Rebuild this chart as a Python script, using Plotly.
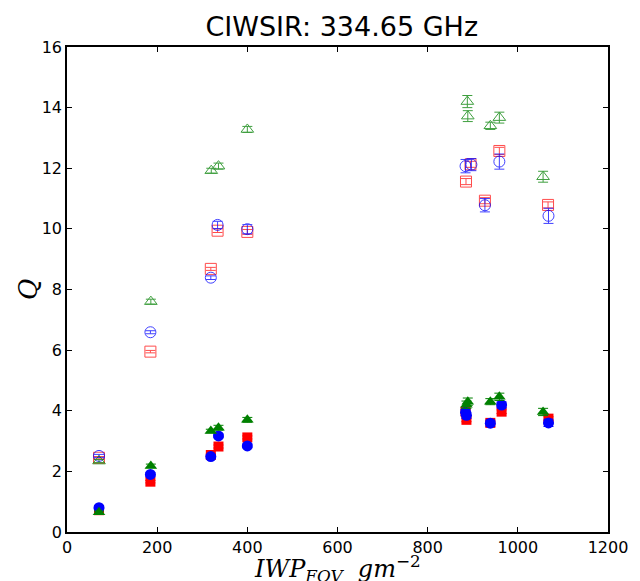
import plotly.graph_objects as go

# Open markers (upper group)
tri_open_x = [71, 186, 320, 336, 400, 888, 889, 939, 959, 1056]
tri_open_y = [2.34, 7.6, 11.92, 12.07, 13.28, 14.2, 13.72, 13.4, 13.67, 11.72]
tri_open_e = [0.05, 0.08, 0.08, 0.1, 0.1, 0.2, 0.18, 0.12, 0.18, 0.18]

cir_open_x = [71, 185, 319, 334, 400, 884, 897, 927, 959, 1068]
cir_open_y = [2.51, 6.59, 8.39, 10.13, 9.99, 12.07, 12.12, 10.78, 12.22, 10.43]
cir_open_e = [0.05, 0.05, 0.06, 0.12, 0.15, 0.22, 0.2, 0.22, 0.25, 0.25]

sq_open_x = [71, 185, 319, 334, 400, 885, 895, 927, 959, 1067]
sq_open_y = [2.45, 5.95, 8.68, 9.94, 9.9, 11.56, 12.13, 10.93, 12.57, 10.79]
sq_open_e = [0.04, 0.04, 0.05, 0.06, 0.08, 0.1, 0.1, 0.1, 0.12, 0.1]

# Filled markers (lower group)
tri_fill_x = [71, 186, 319, 336, 400, 886, 889, 939, 959, 1056]
tri_fill_y = [0.65, 2.18, 3.33, 3.44, 3.7, 4.2, 4.3, 4.3, 4.46, 3.96]
tri_fill_e = [0.04, 0.06, 0.06, 0.08, 0.08, 0.12, 0.12, 0.1, 0.12, 0.12]

cir_fill_x = [71, 185, 319, 336, 400, 884, 886, 939, 964, 1068]
cir_fill_y = [0.8, 1.9, 2.49, 3.17, 2.84, 3.95, 3.85, 3.59, 4.19, 3.6]
cir_fill_e = [0.03, 0.05, 0.05, 0.06, 0.06, 0.1, 0.1, 0.1, 0.1, 0.12]

sq_fill_x = [71, 185, 319, 336, 400, 884, 886, 939, 964, 1068]
sq_fill_y = [0.72, 1.66, 2.54, 2.82, 3.12, 3.97, 3.7, 3.6, 3.97, 3.74]
sq_fill_e = [0.03, 0.04, 0.04, 0.05, 0.05, 0.06, 0.06, 0.06, 0.06, 0.06]

x_ticks = [0, 200, 400, 600, 800, 1000, 1200]
y_ticks = [0, 2, 4, 6, 8, 10, 12, 14, 16]

GREEN = "#008000"
BLUE = "#0000ff"
RED = "#ff0000"

fig = go.Figure()


def add(x, y, e, symbol, color, opacity=1.0, size=10, lw=1):
    fig.add_trace(go.Scatter(
        x=x, y=y, mode="markers",
        error_y=dict(type="data", array=e, visible=True, color=color,
                     thickness=1, width=5),
        marker=dict(symbol=symbol, size=size, color=color,
                    line=dict(color=color, width=lw)),
        opacity=opacity, showlegend=False,
    ))


add(sq_open_x, sq_open_y, sq_open_e, "square-open", RED, 0.7, 11)
add(cir_open_x, cir_open_y, cir_open_e, "circle-open", BLUE, 0.75, 11)
add(tri_open_x, tri_open_y, tri_open_e, "triangle-up-open", GREEN, 0.75, 11)
add(sq_fill_x, sq_fill_y, sq_fill_e, "square", RED, 1.0, 10, 0)
add(cir_fill_x, cir_fill_y, cir_fill_e, "circle", BLUE, 1.0, 11, 0)
add(tri_fill_x, tri_fill_y, tri_fill_e, "triangle-up", GREEN, 1.0, 11, 0)

axis_common = dict(
    showgrid=False, zeroline=False, showline=True, linecolor="black",
    linewidth=1.5, mirror="allticks", ticks="inside", ticklen=5,
    tickcolor="black", tickwidth=1,
    tickfont=dict(family="DejaVu Sans", size=16, color="black"),
)

fig.update_layout(
    width=640, height=581,
    margin=dict(l=67, r=26, t=47, b=49),
    plot_bgcolor="white", paper_bgcolor="white",
    title=dict(text="CIWSIR: 334.65 GHz", x=0.534, xanchor="center",
               y=1 - 27 / 581, yanchor="middle", yref="container",
               font=dict(family="DejaVu Sans", size=27, color="black")),
    xaxis=dict(range=[0, 1200], tickvals=x_ticks,
               ticktext=[str(v) for v in x_ticks], **axis_common),
    yaxis=dict(range=[0, 16], tickvals=y_ticks,
               ticktext=[str(v) for v in y_ticks], **axis_common),
    annotations=[
        dict(text="<i>IWP</i><sub><i>FOV</i></sub>  <i>gm</i><sup>−2</sup>",
             xref="paper", yref="paper", x=0.5, y=-0.036, xanchor="center",
             yanchor="top", showarrow=False,
             font=dict(family="DejaVu Serif", size=24, color="black")),
        dict(text="<i>Q</i>", xref="paper", yref="paper", x=-0.073, y=0.5,
             xanchor="center", yanchor="middle", textangle=-90,
             showarrow=False,
             font=dict(family="DejaVu Serif", size=26, color="black")),
    ],
)

fig.write_html("out.html")
